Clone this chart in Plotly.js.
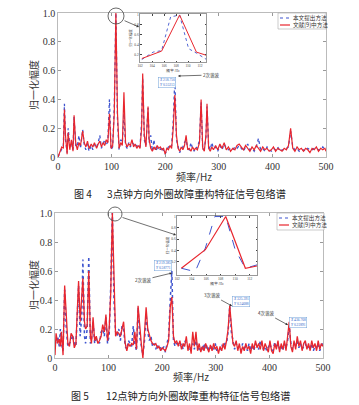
<!DOCTYPE html>
<html><head><meta charset="utf-8">
<script src="https://cdn.plot.ly/plotly-3.0.1.min.js"></script>
<style>html,body{margin:0;padding:0;background:#fff;} #chart{width:359px;height:405px;}</style>
</head><body><div id="chart"></div><script>
// ---------- data: figure 4 (top) ----------
const freqTop = [
0,4,7,10,12,14,17,19,22,25,
28,30,33,36,39,42,46,49,52,55,
58,62,65,68,72,75,78,81,84,87,
90,93,96,99,102,105,108,111,114,117,
120,123,126,129,132,135,138,141,144,147,
150,153,156,158,161,164,168,170,173,176,
179,182,185,188,191,194,197,200,203,206,
209,212,215,218,221,224,227,230,233,236,
239,242,245,248,251,254,257,260,264,267,
270,273,276,278,281,284,287,290,294,298,
302,306,310,314,318,322,326,330,334,338,
342,346,350,354,358,362,366,370,374,378,
382,386,390,394,398,402,406,410,414,418,
422,426,430,434,438,442,446,450,454,458,
462,466,470,474,478,482,486,490,494,498,
500];
const proposedTop = [
0,0.03,0.06,0.08,0.37,0.12,0.03,0.2,0.08,0.1,
0.05,0.28,0.08,0.07,0.15,0.06,0.19,0.08,0.05,0.09,
0.04,0.08,0.05,0.09,0.07,0.1,0.15,0.06,0.09,0.12,
0.08,0.11,0.4,0.05,0.07,0.35,1.0,0.25,0.05,0.12,
0.1,0.3,0.08,0.06,0.1,0.07,0.1,0.09,0.07,0.08,
0.06,0.07,0.25,0.55,0.12,0.08,0.34,0.1,0.15,0.04,
0.12,0.04,0.06,0.07,0.05,0.07,0.04,0.02,0.05,0.07,
0.06,0.08,0.25,0.55,0.12,0.08,0.03,0.06,0.07,0.1,
0.12,0.06,0.05,0.1,0.06,0.04,0.07,0.06,0.12,0.38,
0.05,0.06,0.14,0.35,0.08,0.05,0.1,0.06,0.07,0.04,
0.08,0.05,0.09,0.06,0.05,0.06,0.05,0.07,0.06,0.08,
0.06,0.04,0.07,0.09,0.05,0.06,0.04,0.07,0.13,0.05,
0.06,0.04,0.07,0.05,0.04,0.06,0.05,0.07,0.04,0.05,
0.05,0.06,0.07,0.18,0.07,0.05,0.06,0.04,0.05,0.05,
0.04,0.06,0.05,0.05,0.06,0.06,0.05,0.05,0.07,0.05,
0.05];
const refTop = [
0,0.04,0.07,0.06,0.33,0.15,0.02,0.17,0.05,0.12,
0.04,0.29,0.1,0.05,0.1,0.08,0.18,0.1,0.07,0.11,
0.06,0.09,0.07,0.1,0.06,0.09,0.11,0.07,0.1,0.08,
0.12,0.1,0.3,0.06,0.08,0.3,1.0,0.3,0.06,0.1,
0.08,0.45,0.1,0.07,0.09,0.08,0.12,0.07,0.09,0.06,
0.08,0.06,0.2,0.58,0.15,0.07,0.35,0.12,0.06,0.04,
0.07,0.05,0.08,0.06,0.07,0.05,0.06,0.02,0.06,0.05,
0.08,0.06,0.2,0.43,0.15,0.06,0.04,0.07,0.05,0.08,
0.15,0.05,0.06,0.04,0.07,0.05,0.06,0.05,0.1,0.4,
0.06,0.04,0.15,0.37,0.06,0.04,0.07,0.05,0.08,0.05,
0.09,0.06,0.1,0.05,0.07,0.04,0.06,0.05,0.08,0.09,
0.07,0.05,0.08,0.06,0.04,0.07,0.05,0.08,0.06,0.04,
0.07,0.05,0.06,0.04,0.05,0.07,0.04,0.06,0.05,0.04,
0.06,0.05,0.08,0.2,0.06,0.04,0.07,0.05,0.06,0.04,
0.06,0.05,0.03,0.06,0.05,0.07,0.04,0.06,0.05,0.06,
0.04];
// inset (figure 4)
const insTopFreqP = [102.3,104.2,105.6,107.1,108.6,110.1,111.4,113.1];
const insTopValP  = [0.10,0.25,0.28,0.96,1.0,0.32,0.23,0.10];
const insTopFreqR = [102.3,105.6,108.6,111.4,113.2];
const insTopValR  = [0.12,0.27,1.0,0.25,0.18];

// ---------- data: figure 5 (bottom) ----------
const freqBot = [
0,2,5,8,10,12,15,18,21,24,
27,30,33,36,39,42,44,47,50,52,
55,57,60,63,66,68,71,74,77,80,
83,86,89,92,95,98,101,104,107,110,
113,116,119,122,125,128,131,134,137,140,
143,146,149,152,155,158,161,164,167,170,
173,176,179,182,185,188,191,194,197,200,
203,206,209,212,215,218,221,224,227,230,
233,236,239,242,245,248,251,254,257,260,
263,266,269,272,275,278,281,284,287,290,
293,296,299,302,305,308,311,314,317,320,
323,326,329,332,335,338,341,344,347,350,
353,356,359,362,365,368,371,374,377,380,
383,386,389,392,395,398,401,404,407,410,
413,416,419,422,425,428,431,434,437,440,
443,446,449,452,455,458,461,464,467,470,
473,476,479,482,485,488,491,494,497,500];
const proposedBot = [
0.12,0.1,0.15,0.08,0.2,0.1,0.05,0.47,0.2,0.08,
0.1,0.12,0.16,0.1,0.08,0.3,0.5,0.15,0.3,0.68,
0.15,0.1,0.2,0.7,0.1,0.12,0.25,0.1,0.13,0.12,
0.1,0.18,0.2,0.15,0.28,0.1,0.15,0.5,1.0,0.4,
0.18,0.15,0.2,0.12,0.22,0.2,0.08,0.06,0.12,0.1,
0.08,0.22,0.1,0.05,0.35,0.15,0.08,0.02,0.12,0.3,
0.18,0.12,0.15,0.08,0.1,0.06,0.09,0.06,0.07,0.05,
0.08,0.04,0.1,0.15,0.4,0.6,0.12,0.08,0.1,0.1,
0.08,0.1,0.06,0.12,0.1,0.07,0.05,0.08,0.1,0.06,
0.12,0.07,0.06,0.08,0.05,0.1,0.06,0.09,0.05,0.07,
0.08,0.06,0.1,0.05,0.07,0.06,0.09,0.07,0.1,0.1,
0.18,0.36,0.18,0.12,0.06,0.1,0.07,0.08,0.05,0.1,
0.07,0.08,0.05,0.1,0.06,0.08,0.05,0.1,0.08,0.06,
0.12,0.08,0.06,0.08,0.05,0.07,0.1,0.06,0.05,0.11,
0.07,0.1,0.06,0.08,0.05,0.1,0.07,0.12,0.22,0.1,
0.06,0.1,0.08,0.12,0.07,0.1,0.06,0.08,0.1,0.07,
0.08,0.06,0.1,0.05,0.08,0.07,0.1,0.05,0.09,0.1];
const refBot = [
0.02,0.17,0.1,0.13,0.08,0.18,0.02,0.5,0.3,0.1,
0.08,0.17,0.15,0.07,0.1,0.35,0.53,0.25,0.4,0.55,
0.25,0.2,0.22,0.6,0.15,0.1,0.28,0.12,0.15,0.1,
0.12,0.15,0.23,0.18,0.3,0.12,0.2,0.45,1.0,0.45,
0.15,0.18,0.17,0.15,0.2,0.25,0.1,0.05,0.1,0.08,
0.1,0.09,0.18,0.06,0.36,0.2,0.1,0.0,0.15,0.35,
0.2,0.15,0.12,0.1,0.09,0.1,0.07,0.08,0.05,0.07,
0.06,0.05,0.08,0.12,0.35,0.42,0.15,0.1,0.12,0.08,
0.12,0.06,0.1,0.08,0.15,0.05,0.1,0.03,0.18,0.08,
0.18,0.05,0.1,0.04,0.08,0.05,0.1,0.07,0.04,0.09,
0.05,0.1,0.06,0.08,0.03,0.08,0.05,0.1,0.06,0.12,
0.2,0.36,0.2,0.1,0.08,0.12,0.05,0.1,0.03,0.08,
0.05,0.1,0.06,0.08,0.03,0.1,0.06,0.12,0.07,0.1,
0.06,0.12,0.05,0.1,0.07,0.04,0.12,0.05,0.03,0.1,
0.06,0.12,0.04,0.1,0.06,0.12,0.05,0.15,0.25,0.08,
0.04,0.12,0.06,0.15,0.08,0.12,0.05,0.1,0.12,0.06,
0.1,0.05,0.12,0.07,0.1,0.05,0.12,0.06,0.1,0.08];
// inset (figure 5)
const insBotFreqP = [102.6,104.5,105.9,107.2,108.7,110.0,111.4,113.0];
const insBotValP  = [0.08,0.02,0.44,1.0,1.0,0.41,0.08,0.14];
const insBotFreqR = [102.6,105.9,108.7,111.4,113.0];
const insBotValR  = [0.08,0.41,1.0,0.08,0.12];

// ticks & labels
const mainXTicks = [0,100,200,300,400,500];
const mainYTicks = [0,0.2,0.4,0.6,0.8,1.0];
const mainYText  = ['0','0.2','0.4','0.6','0.8','1.0'];
const insXTicks  = [102,104,106,108,110,112];
const insYTicks  = [0.2,0.4,0.6,0.8,1.0];
const insYText   = ['0.2','0.4','0.6','0.8','1'];
const nameP = '本文提出方法';
const nameR = '文献[9]中方法';
const xTitle = '频率/Hz';
const yTitle = '归一化幅度';

// ---------- layout helpers ----------
const W = 359, H = 405;
const px = v => v / W;
const py = v => 1 - v / H;
const BLUE = '#3f55cf', RED = '#e8262e';
const SERIF = 'Liberation Serif';
const CJK = 'Noto Sans CJK SC';

function mainX(d0, d1, anchor) {
  return {domain:[px(d0),px(d1)], range:[0,500], anchor:anchor, tickvals:mainXTicks,
    ticks:'inside', ticklen:3, tickcolor:'#999', mirror:'ticks', showline:true, linecolor:'#aaa', linewidth:0.8,
    showgrid:false, zeroline:false, automargin:false,
    tickfont:{family:SERIF, size:10, color:'#333'}};
}
function mainY(d0, d1, anchor) {
  return {domain:[py(d0),py(d1)], range:[0,1], anchor:anchor, tickvals:mainYTicks, ticktext:mainYText,
    ticks:'inside', ticklen:3, tickcolor:'#999', mirror:'ticks', showline:true, linecolor:'#aaa', linewidth:0.8,
    showgrid:false, zeroline:false, automargin:false,
    tickfont:{family:SERIF, size:10, color:'#333'}};
}
function insX(d0, d1, anchor) {
  return {domain:[px(d0),px(d1)], range:[102,113], anchor:anchor, tickvals:insXTicks,
    ticks:'inside', ticklen:1.5, mirror:'ticks', showline:true, linecolor:'#555', linewidth:0.6,
    showgrid:false, zeroline:false, automargin:false,
    tickfont:{family:SERIF, size:3.5, color:'#444'},
    title:{text:xTitle, font:{family:SERIF, size:3.5, color:'#444'}, standoff:1}};
}
function insY(d0, d1, anchor, r) {
  return {domain:[py(d0),py(d1)], range:r, anchor:anchor, tickvals:insYTicks, ticktext:insYText,
    ticks:'inside', ticklen:1.5, mirror:'ticks', showline:true, linecolor:'#555', linewidth:0.6,
    showgrid:false, zeroline:false, automargin:false,
    tickfont:{family:SERIF, size:3.5, color:'#444'},
    title:{text:yTitle, font:{family:CJK, size:3.5, color:'#444'}, standoff:1}};
}

const traces = [
  {x:freqTop, y:proposedTop, xaxis:'x', yaxis:'y', name:nameP, mode:'lines', line:{color:BLUE, width:1.3, dash:'dot'}},
  {x:freqTop, y:refTop, xaxis:'x', yaxis:'y', name:nameR, mode:'lines', line:{color:RED, width:1.2}},
  {x:insTopFreqP, y:insTopValP, xaxis:'x2', yaxis:'y2', name:nameP, mode:'lines', line:{color:BLUE, width:0.9, dash:'dot'}},
  {x:insTopFreqR, y:insTopValR, xaxis:'x2', yaxis:'y2', name:nameR, mode:'lines', line:{color:RED, width:1.0}},
  {x:freqBot, y:proposedBot, xaxis:'x3', yaxis:'y3', name:nameP, mode:'lines', line:{color:BLUE, width:1.5, dash:'dot'}},
  {x:freqBot, y:refBot, xaxis:'x3', yaxis:'y3', name:nameR, mode:'lines', line:{color:RED, width:1.3}},
  {x:insBotFreqP, y:insBotValP, xaxis:'x4', yaxis:'y4', name:nameP, mode:'lines', line:{color:BLUE, width:1.0, dash:'dash'}},
  {x:insBotFreqR, y:insBotValR, xaxis:'x4', yaxis:'y4', name:nameR, mode:'lines', line:{color:RED, width:1.2}}
];

function legendBits(top, left, right, bottom) {
  const shapes = [
    {type:'rect', xref:'paper', yref:'paper', x0:px(left), x1:px(right), y0:py(bottom), y1:py(top), line:{color:'#aaa', width:0.6}, fillcolor:'#fff'},
    {type:'line', xref:'paper', yref:'paper', x0:px(left+2), x1:px(left+12), y0:py(top+5), y1:py(top+5), line:{color:BLUE, width:1.2, dash:'dot'}},
    {type:'line', xref:'paper', yref:'paper', x0:px(left+2), x1:px(left+12), y0:py(top+12), y1:py(top+12), line:{color:RED, width:1.2}}
  ];
  const anns = [
    {xref:'paper', yref:'paper', x:px(left+13), y:py(top+5), xanchor:'left', yanchor:'middle', text:nameP, showarrow:false, font:{family:CJK, size:5.6, color:'#333'}},
    {xref:'paper', yref:'paper', x:px(left+13), y:py(top+12), xanchor:'left', yanchor:'middle', text:nameR, showarrow:false, font:{family:CJK, size:5.6, color:'#333'}}
  ];
  return {shapes, anns};
}
const lg1 = legendBits(13, 278, 326, 29);
const lg2 = legendBits(213, 277, 324, 230);

function arrow(hx, hy, tx, ty, text, size) {
  return {xref:'paper', yref:'paper', x:px(hx), y:py(hy), ax:tx-hx, ay:ty-hy, axref:'pixel', ayref:'pixel',
    text:text, showarrow:true, arrowhead:2, arrowsize:0.7, arrowwidth:0.7, arrowcolor:'#333', standoff:0,
    font:{family:CJK, size:size, color:'#333'}};
}
function tip(cx, cy, xs, ys) {
  return {xref:'paper', yref:'paper', x:px(cx), y:py(cy), xanchor:'center', yanchor:'middle', showarrow:false,
    text:'<i>X</i> '+xs+'<br><i>Y</i> '+ys, align:'left', bgcolor:'#fff', bordercolor:'#6f9fd8', borderwidth:0.5, borderpad:0.5,
    font:{family:SERIF, size:3.6, color:'#2b63c8'}};
}
function label(x, y, text, size, angle) {
  return {xref:'paper', yref:'paper', x:px(x), y:py(y), xanchor:'center', yanchor:'middle', showarrow:false,
    text:text, textangle:angle||0, font:{family:CJK, size:size, color:'#333'}};
}

const annotations = [
  ...lg1.anns, ...lg2.anns,
  label(33, 85, yTitle, 10, -90),
  label(33, 285, yTitle, 10, -90),
  label(194, 176, xTitle, 10),
  label(191, 376, xTitle, 10),
  arrow(139, 27, 123, 20, '', 4),
  arrow(176, 235, 121, 217, '', 4),
  arrow(178, 76, 211, 75, '2次谐波', 4.5),
  arrow(172, 273, 143, 280, '2次谐波', 4.5),
  arrow(232, 306, 212, 295, '3次谐波', 4.5),
  arrow(288, 325, 266, 313, '4次谐波', 4.5),
  tip(167, 82, '218.750', '0.55213'),
  tip(163, 265.5, '219.385', '0.58771'),
  tip(241, 301.5, '325.391', '0.34688'),
  tip(297.5, 322, '436.768', '0.22891'),
  {xref:'paper', yref:'paper', x:px(72), y:py(193), xanchor:'left', yanchor:'middle', showarrow:false, text:'图 4', font:{family:CJK, size:10, color:'#222'}},
  {xref:'paper', yref:'paper', x:px(105), y:py(193), xanchor:'left', yanchor:'middle', showarrow:false, text:'3点钟方向外圈故障重构特征信号包络谱', font:{family:CJK, size:10.2, color:'#222'}},
  {xref:'paper', yref:'paper', x:px(69), y:py(395), xanchor:'left', yanchor:'middle', showarrow:false, text:'图 5', font:{family:CJK, size:10, color:'#222'}},
  {xref:'paper', yref:'paper', x:px(104), y:py(395), xanchor:'left', yanchor:'middle', showarrow:false, text:'12点钟方向外圈故障重构特征信号包络谱', font:{family:CJK, size:10.2, color:'#222'}}
];

const shapes = [
  ...lg1.shapes, ...lg2.shapes,
  {type:'circle', xref:'paper', yref:'paper', x0:px(108), x1:px(124), y0:py(24), y1:py(8), line:{color:'#444', width:0.8}},
  {type:'circle', xref:'paper', yref:'paper', x0:px(108), x1:px(122), y0:py(221), y1:py(207), line:{color:'#444', width:0.8}}
];

const layout = {
  width:W, height:H, margin:{l:0,r:0,t:0,b:0}, paper_bgcolor:'#fff', plot_bgcolor:'#fff', showlegend:false,
  xaxis: mainX(58, 326, 'y'),
  yaxis: mainY(157, 13, 'x'),
  xaxis2: insX(140, 206, 'y2'),
  yaxis2: insY(62, 14, 'x2', [0.05,1.02]),
  xaxis3: mainX(55, 323, 'y3'),
  yaxis3: mainY(358, 213, 'x3'),
  xaxis4: insX(177, 257, 'y4'),
  yaxis4: insY(275, 216, 'x4', [-0.04,1.01]),
  annotations: annotations,
  shapes: shapes
};
Plotly.newPlot('chart', traces, layout, {staticPlot:true, displayModeBar:false});
</script></body></html>
